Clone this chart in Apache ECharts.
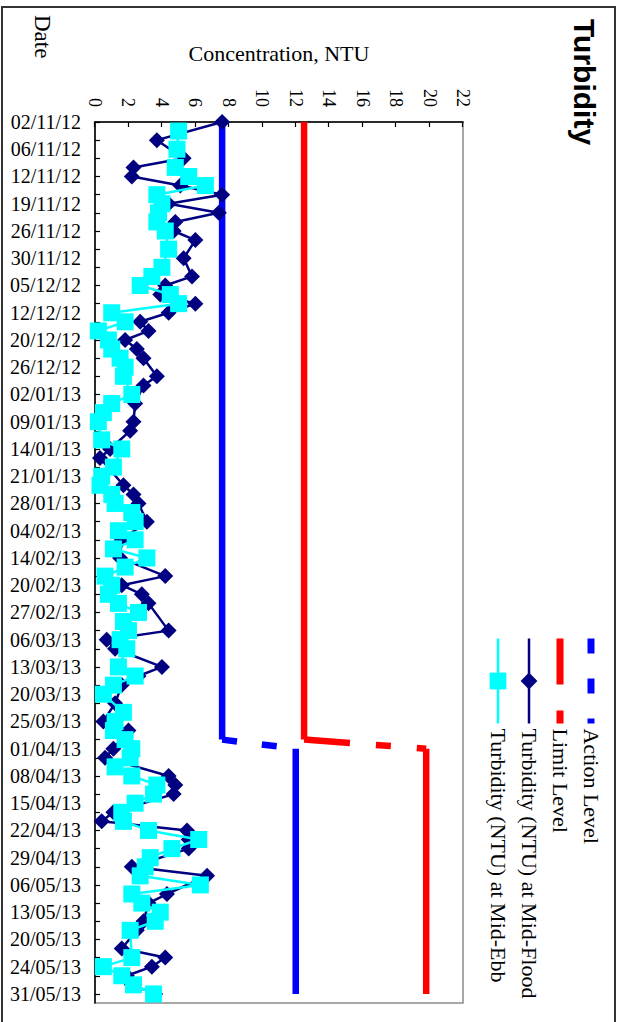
<!DOCTYPE html>
<html>
<head>
<meta charset="utf-8">
<script src="https://cdn.jsdelivr.net/npm/echarts@6/dist/echarts.min.js"></script>
<style>
  html, body { margin: 0; padding: 0; background: #fff; }
  body { width: 620px; height: 1022px; position: relative; overflow: hidden; }
  #frame { position: absolute; left: 1px; top: 6px; width: 615px; height: 1040px; border: 2px solid #333; box-sizing: border-box; z-index: 10; pointer-events: none; }
  #c { position: absolute; left: 0; top: 0; width: 1022px; height: 620px; transform-origin: 0 0; transform: translate(620px, 0) rotate(90deg); }
</style>
</head>
<body>
<div id="c"></div>
<div id="frame"></div>
<script>
// ---------- DATA ----------
const dates = [
  '02/11/12','03/11/12','05/11/12','06/11/12','08/11/12','10/11/12','12/11/12','14/11/12','16/11/12','19/11/12',
  '21/11/12','23/11/12','26/11/12','27/11/12','29/11/12','30/11/12','01/12/12','03/12/12','05/12/12','07/12/12',
  '10/12/12','12/12/12','14/12/12','17/12/12','20/12/12','21/12/12','24/12/12','26/12/12','28/12/12','31/12/12',
  '02/01/13','04/01/13','07/01/13','09/01/13','11/01/13','12/01/13','14/01/13','16/01/13','18/01/13','21/01/13',
  '23/01/13','25/01/13','28/01/13','30/01/13','01/02/13','04/02/13','06/02/13','08/02/13','14/02/13','16/02/13',
  '18/02/13','20/02/13','22/02/13','25/02/13','27/02/13','01/03/13','04/03/13','06/03/13','08/03/13','11/03/13',
  '13/03/13','15/03/13','18/03/13','20/03/13','22/03/13','23/03/13','25/03/13','27/03/13','28/03/13','01/04/13',
  '03/04/13','06/04/13','08/04/13','10/04/13','12/04/13','15/04/13','17/04/13','19/04/13','22/04/13','24/04/13',
  '26/04/13','29/04/13','02/05/13','03/05/13','06/05/13','08/05/13','10/05/13','13/05/13','15/05/13','17/05/13',
  '20/05/13','21/05/13','23/05/13','24/05/13','27/05/13','29/05/13','31/05/13','03/06/13'
];
const midFlood = [
  7.6,null,3.7,null,5.3,2.3,2.2,5.1,7.6,4.4,
  7.4,4.8,4.7,6.0,null,5.3,null,5.8,4.2,3.9,
  6.0,4.4,2.7,3.2,1.8,2.5,2.9,null,3.7,2.9,
  null,2.4,null,2.3,2.1,null,0.9,0.3,null,null,
  1.7,2.3,2.6,null,3.1,null,1.6,null,1.5,null,
  4.2,1.6,2.8,3.2,null,null,4.4,0.7,1.2,null,
  4.0,2.6,1.6,null,1.2,null,0.5,2.0,null,1.1,
  0.6,null,4.4,4.8,4.7,null,1.1,0.4,5.5,5.6,
  5.6,null,2.2,6.7,null,4.3,3.2,null,2.9,2.5,
  null,1.6,4.2,3.4,1.9,2.2,3.6,null
];
const midEbb = [
  null,5.0,null,4.9,null,4.8,5.6,6.6,3.7,4.0,
  3.8,3.7,4.2,null,4.4,null,4.0,3.4,2.7,4.5,
  5.0,1.0,1.8,0.2,0.8,1.0,1.5,1.8,1.7,null,
  2.2,1.0,0.5,0.2,null,0.4,1.6,null,1.1,0.4,
  0.3,1.0,1.2,2.2,2.4,1.4,2.4,1.1,3.1,1.8,
  0.6,1.0,0.8,1.4,2.6,1.7,2.0,1.5,1.9,null,
  1.4,2.4,1.1,0.5,null,1.7,1.2,1.1,1.8,2.2,
  2.1,1.2,2.2,3.7,3.5,2.4,1.6,1.7,3.2,6.2,
  4.6,3.3,3.0,2.7,6.3,2.2,2.8,3.9,3.6,2.1,
  null,null,2.2,0.5,1.6,2.3,3.5,null
];
// Action / Limit levels: [until 28/03/13, from 01/04/13]
const actionLevels = [7.6, 12.0];
const limitLevels = [12.5, 19.8];
const levelChangeDate = '01/04/13';
const levelEndDate = '31/05/13';
const valueTicks = [0, 22, 2]; // min, max, interval
// --------------------------

const changeIdx = dates.indexOf(levelChangeDate);
const endIdx = dates.indexOf(levelEndDate);
function segment(levels, part) {
  return dates.map((d, i) => {
    if (part === 0) return i < changeIdx ? levels[0] : null;
    if (part === 1) return (i >= changeIdx && i <= endIdx) ? levels[1] : null;
    if (i === changeIdx - 1) return levels[0];
    if (i === changeIdx) return levels[1];
    return null;
  });
}

const serif = 'Liberation Serif, Times New Roman, serif';
const chart = echarts.init(document.getElementById('c'), null, { renderer: 'svg', width: 1022, height: 620 });

const actionDash = [15, 25];
const limitDash = [46, 26, 15, 26];
const hidden = { color: 'rgba(0,0,0,0)', borderWidth: 0, borderColor: 'rgba(0,0,0,0)' };

function levelSeries(name, levels, color, dash) {
  return [
    { name, type: 'line', data: segment(levels, 2), symbol: 'none', lineStyle: { color, width: 6.5, type: dash }, itemStyle: { color }, z: 2 },
    { name, type: 'line', data: segment(levels, 0), symbol: 'none', lineStyle: { color, width: 6.5 }, itemStyle: { color }, z: 2 },
    { name, type: 'line', data: segment(levels, 1), symbol: 'none', lineStyle: { color, width: 6.5 }, itemStyle: { color }, z: 2 }
  ];
}

chart.setOption({
  animation: false,
  backgroundColor: '#fff',
  title: {
    text: 'Turbidity', left: 19, top: 21, padding: 0,
    textStyle: { fontFamily: 'Liberation Sans, Arial, sans-serif', fontWeight: 'bold', fontSize: 30, color: '#000' }
  },
  graphic: [{
    type: 'text', left: 15, top: 566,
    style: { text: 'Date', fontFamily: serif, fontSize: 23, fill: '#000' }
  }],
  legend: {
    orient: 'vertical', left: 635, top: 18, padding: 0, itemGap: 9,
    itemWidth: 85, itemHeight: 21,
    textStyle: { fontFamily: serif, fontSize: 22, color: '#000' },
    data: [
      { name: 'Action Level', itemStyle: hidden, lineStyle: { color: '#0000ff', width: 7, type: actionDash } },
      { name: 'Limit Level', itemStyle: hidden, lineStyle: { color: '#ff0000', width: 7, type: limitDash } },
      { name: 'Turbidity (NTU) at Mid-Flood', lineStyle: { color: '#000080', width: 2.5 } },
      { name: 'Turbidity (NTU) at Mid-Ebb', lineStyle: { color: '#00ffff', width: 2.5 } }
    ]
  },
  grid: { left: 122, right: 19, top: 157, bottom: 95, show: true, borderColor: '#8c8c8c', borderWidth: 1.5 },
  xAxis: {
    type: 'category', data: dates, boundaryGap: false,
    axisLine: { lineStyle: { color: '#000', width: 1.5 } },
    axisTick: { inside: true, length: 5, interval: 1, lineStyle: { color: '#000', width: 1.2 } },
    axisLabel: { interval: 2, rotate: 90, margin: 14, fontFamily: serif, fontSize: 20, color: '#000' },
    splitLine: { show: false }
  },
  yAxis: {
    type: 'value', min: valueTicks[0], max: valueTicks[1], interval: valueTicks[2],
    name: 'Concentration, NTU', nameLocation: 'middle', nameRotate: 90, nameGap: 58,
    nameTextStyle: { fontFamily: serif, fontSize: 22, color: '#000' },
    axisLine: { show: true, lineStyle: { color: '#000', width: 1.5 } },
    axisTick: { show: true, inside: true, length: 5, lineStyle: { color: '#000', width: 1.2 } },
    axisLabel: { margin: 15, fontFamily: serif, fontSize: 18, color: '#000' },
    splitLine: { show: false }
  },
  series: [
    ...levelSeries('Action Level', actionLevels, '#0000ff', actionDash),
    ...levelSeries('Limit Level', limitLevels, '#ff0000', limitDash),
    {
      name: 'Turbidity (NTU) at Mid-Flood', type: 'line', data: midFlood, connectNulls: true,
      symbol: 'diamond', symbolSize: 16, showAllSymbol: true,
      lineStyle: { color: '#000080', width: 2.5 }, itemStyle: { color: '#000080' }, z: 3
    },
    {
      name: 'Turbidity (NTU) at Mid-Ebb', type: 'line', data: midEbb, connectNulls: true,
      symbol: 'rect', symbolSize: 17, showAllSymbol: true,
      lineStyle: { color: '#00ffff', width: 2.5 }, itemStyle: { color: '#00ffff' }, z: 4
    }
  ]
});
</script>
</body>
</html>
